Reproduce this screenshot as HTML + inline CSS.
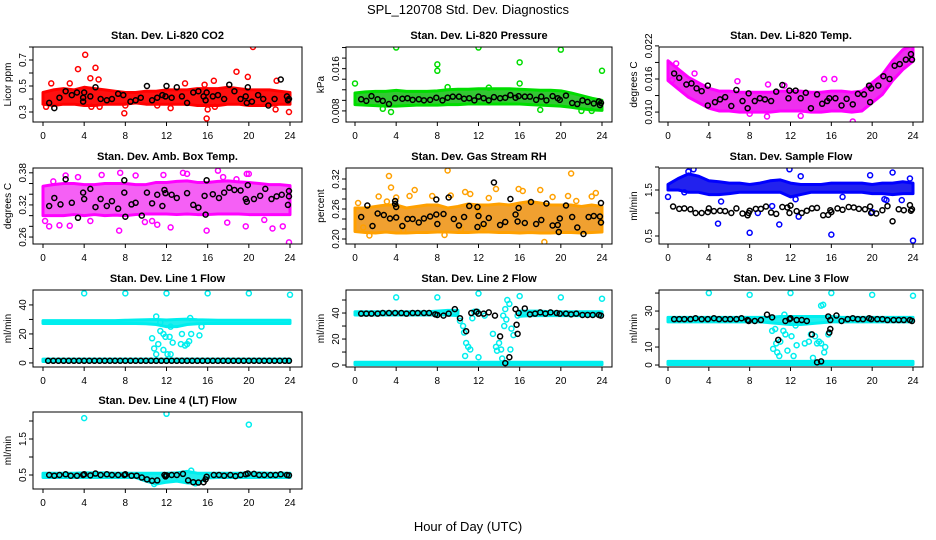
<!DOCTYPE html>
<html><head><meta charset="utf-8"><style>
body{margin:0;background:#fff}
svg{display:block;font-family:"Liberation Sans",Arial,sans-serif}
</style></head><body>
<svg id="c" width="936" height="540" viewBox="0 0 936 540">
<text x="468" y="14" text-anchor="middle" font-size="13">SPL_120708  Std. Dev. Diagnostics</text>
<text x="468" y="531" text-anchor="middle" font-size="13">Hour of Day (UTC)</text>
</svg>
<script>
const hours=[0,1,2,3,4,5,6,7,8,9,10,11,12,13,14,15,16,17,18,19,20,21,22,23,24];
const xTicks=[0,4,8,12,16,20,24];
// CO2
const co2Lo=[0.36,0.35,0.36,0.36,0.35,0.35,0.36,0.36,0.36,0.37,0.36,0.36,0.36,0.36,0.36,0.35,0.35,0.35,0.36,0.36,0.35,0.35,0.35,0.36,0.36];
const co2Hi=[0.45,0.47,0.48,0.47,0.49,0.48,0.47,0.46,0.45,0.45,0.46,0.46,0.47,0.47,0.47,0.48,0.48,0.48,0.49,0.48,0.47,0.47,0.47,0.46,0.45];
const co2Out=[[4.1,0.74],[3.4,0.63],[5.1,0.64],[4.6,0.56],[5.4,0.55],[2.6,0.52],[0.8,0.52],[7.9,0.29],[4.7,0.34],[5.5,0.34],[0.3,0.34],[15.9,0.25],[16,0.32],[18.8,0.61],[19.9,0.57],[20.4,0.8],[22.7,0.54],[22.6,0.32],[23.9,0.3],[16.6,0.54],[13.8,0.52],[15.7,0.51],[12.4,0.33],[16.7,0.34],[11.1,0.35],[8.0,0.35]];
const co2Black=[[0.6,0.37],[1.1,0.33],[1.6,0.41],[2.2,0.46],[2.8,0.43],[3.3,0.45],[3.9,0.38],[3.9,0.41],[4.0,0.45],[4.6,0.42],[5.1,0.49],[5.6,0.4],[6.2,0.39],[6.7,0.4],[7.3,0.44],[7.8,0.43],[8.5,0.38],[9.0,0.39],[9.5,0.41],[10.1,0.5],[10.6,0.39],[11.1,0.41],[11.6,0.43],[11.9,0.42],[12.0,0.5],[12.5,0.41],[13.0,0.49],[13.5,0.42],[14.0,0.37],[14.6,0.45],[15.1,0.46],[15.6,0.42],[15.8,0.39],[15.9,0.45],[16.5,0.42],[17.0,0.43],[17.6,0.4],[18.1,0.51],[18.6,0.46],[19.2,0.4],[19.7,0.42],[19.8,0.37],[19.9,0.49],[20.3,0.38],[20.9,0.43],[21.4,0.4],[21.9,0.35],[22.5,0.4],[23.1,0.55],[23.7,0.42],[23.8,0.39],[23.9,0.4]];
// Pressure
const prLo=[0.0092,0.0091,0.0090,0.0089,0.0089,0.0090,0.0091,0.0091,0.0091,0.0092,0.0092,0.0093,0.0093,0.0093,0.0093,0.0093,0.0093,0.0092,0.0091,0.0090,0.0089,0.0087,0.0084,0.0082,0.0081];
const prHi=[0.0114,0.0116,0.0117,0.0117,0.0119,0.0117,0.0117,0.0117,0.0118,0.0120,0.0121,0.0121,0.0122,0.0122,0.0122,0.0122,0.0121,0.0120,0.0119,0.0119,0.0118,0.0114,0.0109,0.0104,0.0100];
const prOut=[[0,0.0132],[4,0.02],[8,0.0168],[8,0.0156],[12,0.02],[16,0.0172],[16,0.0132],[20,0.0196],[24,0.0156],[3.5,0.0078],[18,0.0082],[22,0.008],[23,0.008],[2.7,0.0084],[9,0.0125],[13,0.0124]];
const prBlack=[[0.6,0.0102],[1.1,0.0099],[1.6,0.0108],[2.2,0.0102],[2.7,0.0099],[3.3,0.0093],[3.9,0.0104],[4.6,0.0103],[5.1,0.0104],[5.6,0.0101],[6.2,0.0102],[6.7,0.0100],[7.3,0.0101],[7.9,0.0105],[8.5,0.0100],[9.0,0.0105],[9.5,0.0107],[10.1,0.0107],[10.6,0.0103],[11.1,0.0104],[11.6,0.0100],[12.0,0.0107],[12.5,0.0104],[13.0,0.0100],[13.5,0.0106],[14.1,0.0104],[14.6,0.0105],[15.1,0.0110],[15.6,0.0105],[15.9,0.0108],[16.5,0.0107],[17.0,0.0107],[17.6,0.0101],[18.1,0.0107],[18.6,0.0100],[19.2,0.0108],[19.7,0.0104],[19.9,0.0101],[20.5,0.0109],[21.1,0.0095],[21.6,0.0093],[22.1,0.0100],[22.6,0.0097],[23.2,0.0094],[23.7,0.0098],[23.8,0.0091],[23.9,0.0095]];
// Temp
const tpLo=[0.0157,0.0142,0.0127,0.0117,0.0107,0.0102,0.0102,0.0100,0.0100,0.0100,0.0100,0.0102,0.0102,0.0102,0.0100,0.0100,0.0102,0.0102,0.0100,0.0102,0.0117,0.0132,0.0157,0.0177,0.0192];
const tpHi=[0.0193,0.0178,0.0163,0.0153,0.0143,0.0138,0.0138,0.0136,0.0136,0.0136,0.0136,0.0138,0.0138,0.0138,0.0136,0.0136,0.0138,0.0138,0.0136,0.0138,0.0153,0.0168,0.0193,0.0213,0.0222];
const tpOut=[[0.8,0.0188],[0.4,0.0158],[2.6,0.0170],[6.8,0.0156],[9.8,0.0150],[8.0,0.0097],[9.7,0.0092],[13.0,0.0093],[15.3,0.0160],[16.3,0.0160],[18.1,0.0083],[11.4,0.0148]];
const tpBlack=[[0.6,0.0170],[1.1,0.0162],[1.8,0.0150],[2.3,0.0152],[2.8,0.0143],[3.3,0.0138],[3.9,0.0112],[3.9,0.0148],[4.6,0.0118],[5.1,0.0123],[5.6,0.0127],[6.2,0.0111],[6.7,0.0140],[7.3,0.0120],[7.8,0.0107],[7.9,0.0134],[8.5,0.0120],[9.0,0.0125],[9.5,0.0123],[10.1,0.0120],[10.6,0.0137],[11.2,0.0149],[11.8,0.0125],[11.9,0.0139],[12.5,0.0139],[13.0,0.0125],[13.5,0.0135],[14.0,0.0107],[14.6,0.0132],[15.1,0.0115],[15.6,0.0120],[15.8,0.0125],[16.4,0.0125],[17.0,0.0112],[17.5,0.0124],[18.1,0.0114],[18.6,0.0133],[19.2,0.0132],[19.7,0.0148],[19.8,0.0118],[19.9,0.0143],[20.6,0.0148],[21.1,0.0165],[21.7,0.0160],[22.2,0.0184],[22.7,0.0187],[23.3,0.0195],[23.8,0.0205],[23.9,0.0195]];
// Amb box temp
const abLo=[0.300,0.300,0.300,0.302,0.300,0.302,0.300,0.301,0.300,0.302,0.303,0.303,0.303,0.302,0.303,0.302,0.302,0.303,0.303,0.303,0.302,0.302,0.302,0.302,0.302];
const abHi=[0.355,0.358,0.360,0.360,0.358,0.358,0.360,0.360,0.360,0.358,0.358,0.362,0.362,0.364,0.365,0.362,0.362,0.364,0.365,0.363,0.362,0.360,0.358,0.358,0.356];
const abOut=[[0.2,0.290],[0.6,0.280],[1.6,0.282],[2.6,0.281],[3.4,0.372],[2.2,0.375],[4.6,0.290],[7.4,0.272],[7.5,0.380],[9.9,0.288],[10.6,0.290],[11.1,0.283],[12.4,0.278],[13.6,0.380],[14.0,0.378],[15.9,0.272],[17.0,0.384],[17.5,0.372],[17.9,0.287],[19.7,0.280],[19.8,0.378],[20.0,0.378],[21.5,0.292],[22.3,0.276],[23.3,0.280],[23.9,0.250],[5.7,0.376],[9.0,0.375],[11.7,0.376],[1.0,0.364],[18.8,0.368]];
const abBlack=[[0.6,0.318],[1.1,0.333],[1.7,0.321],[2.2,0.368],[2.8,0.324],[3.4,0.296],[3.9,0.343],[4.0,0.331],[4.6,0.350],[5.1,0.316],[5.6,0.331],[6.2,0.318],[6.7,0.327],[7.3,0.313],[7.9,0.366],[7.9,0.343],[8.0,0.298],[8.6,0.321],[9.0,0.324],[9.6,0.300],[10.1,0.343],[10.6,0.323],[11.1,0.339],[11.6,0.318],[11.8,0.348],[11.9,0.342],[12.5,0.339],[13.0,0.333],[14.0,0.342],[14.6,0.320],[15.1,0.315],[15.7,0.337],[15.8,0.302],[15.9,0.366],[16.5,0.340],[17.1,0.333],[17.6,0.343],[18.1,0.352],[18.6,0.348],[19.2,0.347],[19.7,0.331],[19.8,0.326],[19.9,0.357],[20.5,0.331],[21.1,0.337],[21.6,0.350],[22.2,0.331],[22.7,0.336],[23.2,0.339],[23.8,0.320],[23.9,0.336],[23.9,0.346]];
// Gas stream RH
const rhLo=[0.215,0.213,0.212,0.214,0.212,0.212,0.213,0.213,0.214,0.214,0.213,0.213,0.214,0.214,0.213,0.213,0.212,0.213,0.212,0.212,0.213,0.213,0.212,0.213,0.214];
const rhHi=[0.262,0.262,0.265,0.268,0.268,0.262,0.265,0.268,0.268,0.262,0.265,0.270,0.268,0.268,0.270,0.268,0.272,0.275,0.272,0.268,0.268,0.268,0.265,0.268,0.265];
const rhOut=[[0.3,0.272],[0.8,0.223],[1.4,0.207],[2.3,0.285],[3.1,0.275],[3.3,0.326],[3.5,0.303],[4.0,0.283],[5.3,0.286],[5.8,0.298],[7.5,0.286],[8.7,0.208],[9.0,0.337],[9.3,0.287],[10.3,0.220],[10.7,0.294],[11.2,0.290],[12.0,0.258],[13.0,0.282],[13.7,0.300],[15.9,0.300],[16.3,0.296],[18.0,0.298],[18.4,0.194],[19.2,0.284],[20.7,0.286],[21.0,0.331],[21.5,0.276],[23.0,0.285],[23.4,0.292],[12.5,0.224],[4.7,0.218]];
const rhBlack=[[0.6,0.244],[1.2,0.267],[1.7,0.226],[2.2,0.251],[2.8,0.248],[3.4,0.241],[3.9,0.276],[3.9,0.270],[4.0,0.264],[4.0,0.243],[4.6,0.226],[5.1,0.240],[5.6,0.240],[6.2,0.233],[6.7,0.241],[7.3,0.245],[7.9,0.279],[7.9,0.249],[8.0,0.230],[8.6,0.250],[9.1,0.283],[9.6,0.240],[10.1,0.227],[10.6,0.244],[11.1,0.266],[11.9,0.224],[11.9,0.264],[12.0,0.246],[12.5,0.230],[13.0,0.242],[13.5,0.313],[14.1,0.228],[14.6,0.234],[15.1,0.280],[15.6,0.249],[15.8,0.235],[15.9,0.262],[16.5,0.232],[17.1,0.274],[17.6,0.230],[18.1,0.238],[18.6,0.271],[19.2,0.227],[19.7,0.228],[19.8,0.214],[19.9,0.241],[20.5,0.267],[21.1,0.244],[21.6,0.223],[22.2,0.210],[22.7,0.244],[23.2,0.246],[23.8,0.245],[23.9,0.233],[23.9,0.272]];
// Sample flow
const sfLo=[1.50,1.50,1.45,1.45,1.40,1.40,1.42,1.45,1.45,1.45,1.45,1.45,1.35,1.40,1.45,1.45,1.45,1.45,1.45,1.45,1.42,1.42,1.40,1.42,1.42];
const sfHi=[1.62,1.75,1.85,1.80,1.70,1.68,1.65,1.65,1.62,1.65,1.70,1.72,1.65,1.62,1.62,1.62,1.65,1.65,1.65,1.65,1.62,1.65,1.65,1.68,1.65];
const sfOut=[[0,1.35],[1.6,1.45],[2.0,1.90],[2.5,1.95],[4.9,0.77],[5.2,1.25],[8.0,0.57],[8.8,1.00],[10.2,1.15],[10.9,0.75],[11.8,2.05],[11.9,1.95],[12.5,1.30],[13.0,1.80],[12.8,0.92],[16.0,0.53],[17.1,1.35],[19.8,1.82],[20.0,1.02],[21.2,1.30],[21.4,1.28],[22.0,1.88],[22.9,1.28],[23.7,1.75],[24.0,0.40]];
const sfBlack=[[0.5,1.14],[1.1,1.09],[1.6,1.10],[2.2,1.08],[2.7,1.00],[3.3,1.00],[3.9,1.02],[4.0,1.10],[4.5,1.04],[5.1,1.05],[5.6,1.04],[6.2,1.00],[6.7,1.10],[7.3,0.99],[7.8,0.95],[7.9,1.00],[8.0,1.05],[8.6,1.09],[9.1,1.09],[9.6,1.14],[10.1,1.01],[10.6,0.98],[11.2,1.13],[11.7,1.12],[11.9,1.00],[12.0,1.16],[12.6,1.04],[13.1,1.00],[13.6,1.05],[14.1,1.10],[14.6,1.11],[15.2,0.95],[15.7,0.96],[15.9,1.06],[16.0,1.02],[16.6,1.10],[17.1,1.07],[17.7,1.13],[18.2,1.12],[18.7,1.09],[19.3,1.08],[19.8,1.14],[19.9,1.00],[20.4,0.99],[21.0,1.06],[21.5,1.15],[22.0,0.82],[22.6,1.08],[23.1,1.06],[23.7,1.17],[23.8,1.05],[23.9,1.08]];
// Line 1
const l1Lo=[27.2,27.2,27.2,27.2,27.2,27.2,27.2,27.2,27.2,27.2,27.0,26.5,25.0,25.0,26.5,27.0,27.2,27.2,27.2,27.2,27.2,27.2,27.2,27.2,27.2];
const l1Hi=[29.2,29.2,29.2,29.2,29.2,29.2,29.2,29.2,29.4,29.6,29.8,30.0,29.6,30.0,30.2,29.8,29.6,29.4,29.4,29.4,29.4,29.4,29.4,29.4,29.4];
const l1BaseLo=[1.0,1.0,1.0,1.0,1.0,1.0,1.0,1.0,1.0,1.0,1.0,1.0,1.0,1.0,1.0,1.0,1.0,1.0,1.0,1.0,1.0,1.0,1.0,1.0,1.0];
const l1BaseHi=[2.6,2.6,2.6,2.6,2.6,2.6,2.6,2.6,2.6,2.6,2.6,2.6,2.6,2.6,2.6,2.6,2.6,2.6,2.6,2.6,2.6,2.6,2.6,2.6,2.6];
const l1Out=[[4,48],[8,48],[12,48],[16,48],[20,48],[24,47],[11.0,32],[10.6,17],[10.8,10],[11.0,6],[11.2,13],[11.4,22],[11.7,20],[11.9,18],[11.7,9],[12.1,6],[12.4,6],[12.6,14],[12.4,25],[13.5,20],[13.4,13],[13.8,12],[14.0,13],[14.2,15],[14.4,20],[15.2,19],[14.3,31],[15.4,25],[12.3,18],[11.4,28]];
const l1Black=[[0.5,1.5],[1,1.5],[1.5,1.5],[2,1.5],[2.5,1.5],[3,1.5],[3.5,1.5],[4,1.5],[4.5,1.5],[5,1.5],[5.5,1.5],[6,1.5],[6.5,1.5],[7,1.5],[7.5,1.5],[8,1.5],[8.5,1.5],[9,1.5],[9.5,1.5],[10,1.5],[10.5,1.5],[11,1.5],[11.5,1.5],[12,1.5],[12.5,1.5],[13,1.5],[13.5,1.5],[14,1.5],[14.5,1.5],[15,1.5],[15.5,1.5],[16,1.5],[16.5,1.5],[17,1.5],[17.5,1.5],[18,1.5],[18.5,1.5],[19,1.5],[19.5,1.5],[20,1.5],[20.5,1.5],[21,1.5],[21.5,1.5],[22,1.5],[22.5,1.5],[23,1.5],[23.5,1.5],[23.9,1.5]];
// Line 2
const l2Lo=[38.5,38.5,38.5,38.5,38.5,38.5,38.5,38.5,38.5,38.5,38.0,null,null,null,null,null,37.5,38.0,38.0,38.0,38.0,38.0,38.0,38.0,38.0];
const l2Hi=[41.0,41.0,41.0,41.0,41.0,41.0,41.0,41.0,41.5,42.0,42.0,null,null,null,null,null,41.5,41.5,41.5,41.0,41.0,41.0,41.0,41.0,41.0];
const l2BaseLo=[0.3,0.3,0.3,0.3,0.3,0.3,0.3,0.3,0.3,0.3,0.3,0.3,0.3,0.3,0.3,0.3,0.3,0.3,0.3,0.3,0.3,0.3,0.3,0.3,0.3];
const l2BaseHi=[2.2,2.2,2.2,2.2,2.2,2.2,2.2,2.2,2.2,2.2,2.2,2.2,2.2,2.2,2.2,2.2,2.2,2.2,2.2,2.2,2.2,2.2,2.2,2.2,2.2];
const l2Out=[[4,52],[8,52],[12,55],[16,53],[20,52],[24,51],[10.2,34],[10.5,30],[10.6,25],[10.8,17],[11.0,14],[10.7,7],[11.2,12],[11.4,36],[11.6,41],[12.0,6],[12.6,38],[13.4,24],[13.7,14],[13.8,11],[14.0,17],[14.2,12],[14.3,5],[14.5,30],[14.6,43],[14.4,38],[14.8,50],[15.0,47],[15.2,28],[15.4,23],[15.1,12],[14.7,35],[15.8,38],[11.9,41]];
const l2Black=[[0.6,39.5],[1.1,39.5],[1.6,39.5],[2.2,39.5],[2.7,40],[3.3,40],[3.9,40],[4.5,40],[5.0,39.5],[5.6,40],[6.1,40],[6.7,40],[7.2,40],[7.8,39],[8.0,38.5],[8.6,38],[9.1,39.5],[9.7,43],[10.2,36],[10.8,26],[11.3,40],[11.8,41],[12.0,39.5],[12.5,39.5],[13.0,40.5],[13.6,38],[14.1,22],[14.6,1.5],[15.0,6],[15.6,43],[15.7,31],[15.8,24],[15.9,40],[16.5,43.5],[17.0,39],[17.5,39.5],[18.0,40.5],[18.5,39.5],[19.0,40.5],[19.6,40],[19.9,39.5],[20.5,39.5],[21.0,39],[21.5,39.5],[22.1,38.5],[22.6,38.5],[23.1,38.5],[23.7,38.5],[23.9,38]];
// Line 3
const l3Lo=[24.0,24.0,24.0,24.0,24.0,24.0,24.0,24.0,24.0,24.0,23.5,23.0,22.5,22.5,23.0,23.5,24.0,24.0,24.0,24.0,24.0,24.0,24.0,24.0,24.0];
const l3Hi=[26.5,26.5,26.5,26.5,26.5,26.5,26.5,26.5,26.5,26.5,26.5,27.0,27.0,27.0,27.0,27.0,27.0,26.5,26.5,26.5,26.5,26.5,26.5,26.5,26.5];
const l3BaseLo=[0.3,0.3,0.3,0.3,0.3,0.3,0.3,0.3,0.3,0.3,0.3,0.3,0.3,0.3,0.3,0.3,0.3,0.3,0.3,0.3,0.3,0.3,0.3,0.3,0.3];
const l3BaseHi=[2.0,2.0,2.0,2.0,2.0,2.0,2.0,2.0,2.0,2.0,2.0,2.0,2.0,2.0,2.0,2.0,2.0,2.0,2.0,2.0,2.0,2.0,2.0,2.0,2.0];
const l3Out=[[4,40],[8,39],[12,40],[16,40],[20,39],[24,38.5],[10.2,19],[10.5,20],[10.6,12],[10.7,7],[10.9,5],[10.3,9],[11.0,13],[11.3,19],[11.5,17],[11.7,8],[12.1,16],[12.3,5],[12.6,11],[12.5,22],[13.4,12],[13.8,13],[14.0,17],[14.2,4],[14.4,16],[14.6,12],[14.8,13],[15.0,12],[15.3,7],[15.4,10],[15.0,33],[15.2,33.5],[15.7,17],[11.4,28]];
const l3Black=[[0.6,25.5],[1.1,25.5],[1.6,25.5],[2.2,25.5],[2.7,26],[3.3,25.5],[3.9,25.5],[4.5,26],[5.0,25.5],[5.6,25.5],[6.1,25.5],[6.7,25.5],[7.2,26],[7.8,25],[7.9,24.5],[8.5,24.5],[9.1,25],[9.7,28],[10.2,26.5],[10.8,14],[11.5,24.5],[11.9,25.5],[12.0,26],[12.6,25],[13.1,25],[13.6,24.5],[14.1,17],[14.6,1.5],[15.0,2],[15.7,27],[15.8,18],[15.9,20],[15.9,25],[16.5,27.5],[17.0,24.5],[17.6,25.5],[18.1,26],[18.6,25.5],[19.1,25.5],[19.7,26],[19.9,25.5],[20.5,25.5],[21.0,25.5],[21.5,25],[22.1,25],[22.6,25],[23.1,25],[23.7,25],[23.9,24.5]];
// Line 4
const l4Lo=[0.43,0.43,0.43,0.43,0.43,0.43,0.43,0.43,0.43,0.43,0.33,0.25,0.30,0.33,0.28,0.26,0.42,0.43,0.43,0.43,0.43,0.43,0.43,0.43,0.43];
const l4Hi=[0.55,0.55,0.55,0.55,0.56,0.56,0.56,0.55,0.55,0.55,0.55,0.55,0.55,0.56,0.60,0.55,0.55,0.55,0.55,0.55,0.56,0.56,0.55,0.55,0.55];
const l4Out=[[4,2.08],[12,2.2],[20,1.9],[14.4,0.62],[10.8,0.25],[14.8,0.27]];
const l4Black=[[0.6,0.5],[1.1,0.48],[1.6,0.5],[2.2,0.52],[2.7,0.48],[3.3,0.48],[3.9,0.5],[4.0,0.52],[4.6,0.49],[5.1,0.54],[5.6,0.5],[6.2,0.52],[6.7,0.5],[7.3,0.5],[7.9,0.5],[8.0,0.52],[8.6,0.48],[9.1,0.48],[9.6,0.43],[10.1,0.38],[10.6,0.34],[11.1,0.35],[11.8,0.5],[11.9,0.46],[12.0,0.49],[12.5,0.5],[13.0,0.5],[13.6,0.53],[14.1,0.35],[14.6,0.3],[15.1,0.29],[15.6,0.3],[15.8,0.38],[15.9,0.45],[16.6,0.5],[17.1,0.5],[17.6,0.48],[18.2,0.5],[18.7,0.47],[19.2,0.5],[19.7,0.52],[19.9,0.54],[20.5,0.53],[21.0,0.5],[21.5,0.5],[22.1,0.5],[22.6,0.5],[23.1,0.52],[23.7,0.5],[23.9,0.49]];

const cols=[{L:33,R:302,x0:43,x24:290},{L:346,R:612,x0:355,x24:602},{L:659,R:923,x0:668,x24:913}];
const rows=[{T:47,B:122},{T:168,B:244},{T:290,B:367},{T:412,B:489}];
const panels=[
 {id:'co2',title:'Stan. Dev. Li-820 CO2',c:0,r:0,dom:[0.223,0.8],ticks:[0.3,0.4,0.5,0.6,0.7,0.8],lab:{0.3:'0.3',0.5:'0.5',0.7:'0.7'},ylab:'Licor ppm',col:'#ff0000',fill:'#ff1010',bands:[[co2Lo,co2Hi]],out:co2Out,blk:co2Black},
 {id:'pressure',title:'Stan. Dev. Li-820 Pressure',c:1,r:0,dom:[0.0059,0.0201],ticks:[0.008,0.010,0.012,0.014,0.016,0.018,0.020],lab:{0.008:'0.008',0.016:'0.016'},ylab:'kPa',col:'#00dd00',fill:'#33c833',bands:[[prLo,prHi]],out:prOut,blk:prBlack},
 {id:'temp',title:'Stan. Dev. Li-820 Temp.',c:2,r:0,dom:[0.0082,0.0218],ticks:[0.010,0.013,0.016,0.019,0.022],lab:{0.010:'0.010',0.016:'0.016',0.022:'0.022'},ylab:'degrees C',col:'#ff00ff',fill:'#ee30ee',bands:[[tpLo,tpHi]],out:tpOut,blk:tpBlack},
 {id:'amb',title:'Stan. Dev. Amb. Box Temp.',c:0,r:1,dom:[0.247,0.389],ticks:[0.26,0.28,0.30,0.32,0.34,0.36,0.38],lab:{0.26:'0.26',0.32:'0.32',0.38:'0.38'},ylab:'degrees C',col:'#ff00ff',fill:'#f560f5',bands:[[abLo,abHi]],out:abOut,blk:abBlack},
 {id:'rh',title:'Stan. Dev. Gas Stream RH',c:1,r:1,dom:[0.19,0.342],ticks:[0.20,0.22,0.24,0.26,0.28,0.30,0.32],lab:{0.20:'0.20',0.26:'0.26',0.32:'0.32'},ylab:'percent',col:'#ffa000',fill:'#f0a030',bands:[[rhLo,rhHi]],out:rhOut,blk:rhBlack},
 {id:'sample',title:'Stan. Dev. Sample Flow',c:2,r:1,dom:[0.326,1.978],ticks:[0.5,1.0,1.5,2.0],lab:{0.5:'0.5',1.5:'1.5'},ylab:'ml/min',col:'#0000ff',fill:'#2222ee',bands:[[sfLo,sfHi]],out:sfOut,blk:sfBlack},
 {id:'line1',title:'Stan. Dev. Line 1 Flow',c:0,r:2,dom:[-2.8,50.3],ticks:[0,10,20,30,40],lab:{0:'0',20:'20',40:'40'},ylab:'ml/min',col:'#00eeee',fill:'#22eeee',bands:[[l1Lo,l1Hi],[l1BaseLo,l1BaseHi]],out:l1Out,blk:l1Black},
 {id:'line2',title:'Stan. Dev. Line 2 Flow',c:1,r:2,dom:[-1.5,57.7],ticks:[0,10,20,30,40,50],lab:{0:'0',20:'20',40:'40'},ylab:'ml/min',col:'#00eeee',fill:'#22eeee',bands:[[l2Lo,l2Hi],[l2BaseLo,l2BaseHi]],out:l2Out,blk:l2Black},
 {id:'line3',title:'Stan. Dev. Line 3 Flow',c:2,r:2,dom:[-1.1,41.7],ticks:[0,10,20,30,40],lab:{0:'0',10:'10',30:'30'},ylab:'ml/min',col:'#00eeee',fill:'#22eeee',bands:[[l3Lo,l3Hi],[l3BaseLo,l3BaseHi]],out:l3Out,blk:l3Black},
 {id:'line4',title:'Stan. Dev. Line 4 (LT) Flow',c:0,r:3,dom:[0.111,2.25],ticks:[0.5,1.0,1.5,2.0],lab:{0.5:'0.5',1.5:'1.5'},ylab:'ml/min',col:'#00eeee',fill:'#22eeee',bands:[[l4Lo,l4Hi]],out:l4Out,blk:l4Black}
];
const NS='http://www.w3.org/2000/svg';
const svg=document.getElementById('c');
function mk(tag,attrs,parent){const e=document.createElementNS(NS,tag);for(const k in attrs)e.setAttribute(k,attrs[k]);(parent||svg).appendChild(e);return e;}
panels.forEach(p=>{
 const C=cols[p.c],Rw=rows[p.r];
 const xs=h=>C.x0+(C.x24-C.x0)*h/24;
 const ys=v=>Rw.B-(Rw.B-Rw.T)*(v-p.dom[0])/(p.dom[1]-p.dom[0]);
 const g=mk('g',{});
 
 
 const cp=mk('clipPath',{id:'cl-'+p.id},g);
 mk('rect',{x:C.L,y:Rw.T,width:C.R-C.L,height:Rw.B-Rw.T},cp);
 const data=mk('g',{'clip-path':'url(#cl-'+p.id+')'},g);
 p.bands.forEach(([lo,hi])=>{
  let seg=[];
  const flush=()=>{ if(seg.length>1){
    const pts=seg.map(i=>xs(hours[i])+','+ys(hi[i])).concat(seg.slice().reverse().map(i=>xs(hours[i])+','+ys(lo[i])));
    const pg=mk('polygon',{points:pts.join(' '),fill:p.fill,stroke:p.col,'stroke-width':3,'stroke-linejoin':'round'},data);
    
    
  } seg=[]; };
  hours.forEach((h,i)=>{ if(lo[i]==null||hi[i]==null) flush(); else seg.push(i); });
  flush();
 });
 p.out.forEach(([h,v])=>{
  const c=mk('circle',{cx:xs(h),cy:ys(v),r:2.5,fill:'none',stroke:p.col,'stroke-width':1.5},data);
  
  
 });
 p.blk.forEach(([h,v])=>{
  const c=mk('circle',{cx:xs(h),cy:ys(v),r:2.5,fill:'none',stroke:'#000','stroke-width':1.5},data);
  
  
 });
 const box=mk('rect',{x:C.L,y:Rw.T,width:C.R-C.L,height:Rw.B-Rw.T,fill:'none',stroke:'#000','stroke-width':1},g);
 
 
 const t=mk('text',{x:(C.L+C.R)/2,y:Rw.T-8,'text-anchor':'middle','font-size':11,'font-weight':'bold'},g);
 t.textContent=p.title;
 
 
 xTicks.forEach(h=>{
  mk('line',{x1:xs(h),x2:xs(h),y1:Rw.B,y2:Rw.B+4,stroke:'#000'},g);
  const tx=mk('text',{x:xs(h),y:Rw.B+17,'text-anchor':'middle','font-size':10},g);
  tx.textContent=h;
  
  
 });
 p.ticks.forEach(v=>{
  const y=ys(v);
  mk('line',{x1:C.L-4,x2:C.L,y1:y,y2:y,stroke:'#000'},g);
  const s=p.lab[v];
  if(s){
   const tx=mk('text',{x:C.L-7,y:y,'text-anchor':'middle','font-size':10,transform:'rotate(-90 '+(C.L-7)+' '+y+')'},g);
   tx.textContent=s;
   
   
  }
 });
 const yl=(Rw.T+Rw.B)/2, xl=C.L-22;
 const yt=mk('text',{x:xl,y:yl,'text-anchor':'middle','font-size':10,transform:'rotate(-90 '+xl+' '+yl+')'},g);
 yt.textContent=p.ylab;
 
 
});
</script>
</body></html>
